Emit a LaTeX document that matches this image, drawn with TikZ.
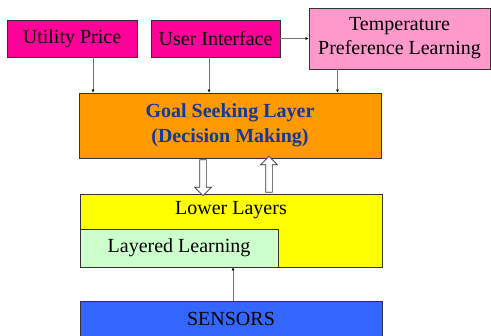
\documentclass[tikz,border=0pt]{standalone}
\usepackage{fontspec}
\setmainfont{Liberation Serif}
\newfontfamily\boxfont{Liberation Serif}
\usepackage{tikz}
\usetikzlibrary{arrows.meta,shapes.arrows}
\definecolor{hotpink}{RGB}{255,0,153}
\definecolor{softpink}{RGB}{255,153,204}
\definecolor{goalorange}{RGB}{255,153,0}
\definecolor{layeryellow}{RGB}{255,255,0}
\definecolor{learngreen}{RGB}{204,255,204}
\definecolor{sensorblue}{RGB}{51,102,255}
\definecolor{goalblue}{RGB}{20,55,155}
\begin{document}
\begin{tikzpicture}[x=1pt,y=-1pt,
    block/.style ={rectangle, draw=black!80, line width=0.8pt, inner sep=0pt,
      font=\boxfont\fontsize{20}{24}\selectfont, align=center},
    feed/.style ={draw=black!55, line width=0.7pt, -{Latex[length=3pt,width=3pt,black]}},
    hollow/.style ={single arrow, draw=black!80, fill=white, line width=0.7pt,
      inner sep=3pt, minimum width=16pt, minimum height=36pt,
      single arrow head extend=5pt}]
   \useasboundingbox (0,0) rectangle (491,336);
   \node[block, fill=hotpink, minimum width=130pt, minimum height=37pt] (price) at (72,38.5) {Utility Price};
   \node[block, fill=hotpink, minimum width=129pt, minimum height=37pt] (ui) at (215.5,38.5) {User Interface};
   \node[block, fill=softpink, minimum width=181pt, minimum height=61pt] (pref) at (399.5,38.5) {Temperature\\Preference Learning};
   \node[block, fill=goalorange, minimum width=302pt, minimum height=65pt,
     font=\boxfont\fontsize{20}{25}\selectfont\bfseries, text=goalblue] (goal) at (230,125.5) {Goal Seeking Layer\\(Decision Making)};
   \node[block, fill=layeryellow, minimum width=302pt, minimum height=73pt,
     label={[below=4pt, font=\boxfont\fontsize{20}{24}\selectfont]north:Lower Layers}] (lower) at (231,230.5) {};
   \node[block, fill=learngreen, minimum width=198pt, minimum height=38pt] (learn) at (179,248) {Layered Learning};
   \node[block, fill=sensorblue, minimum width=302pt, minimum height=36pt] (sensors) at (231,319) {SENSORS};
   \node[hollow, shape border rotate=270] (down) at (203,176) {};
   \node[hollow, shape border rotate=90] (up) at (269,176) {};
   \draw[feed] ([xshift=21pt]price.south) to ([xshift=21pt]price.south |- goal.north);
   \draw[feed] ([xshift=-6.5pt]ui.south) to ([xshift=-6.5pt]ui.south |- goal.north);
   \draw[feed] ([xshift=-62pt]pref.south) to ([xshift=-62pt]pref.south |- goal.north);
   \draw[feed] (ui) to (pref);
   \draw[feed] ([xshift=2pt]sensors.north) to ([xshift=2pt]sensors.north |- learn.south);
 \end{tikzpicture}
\end{document}
